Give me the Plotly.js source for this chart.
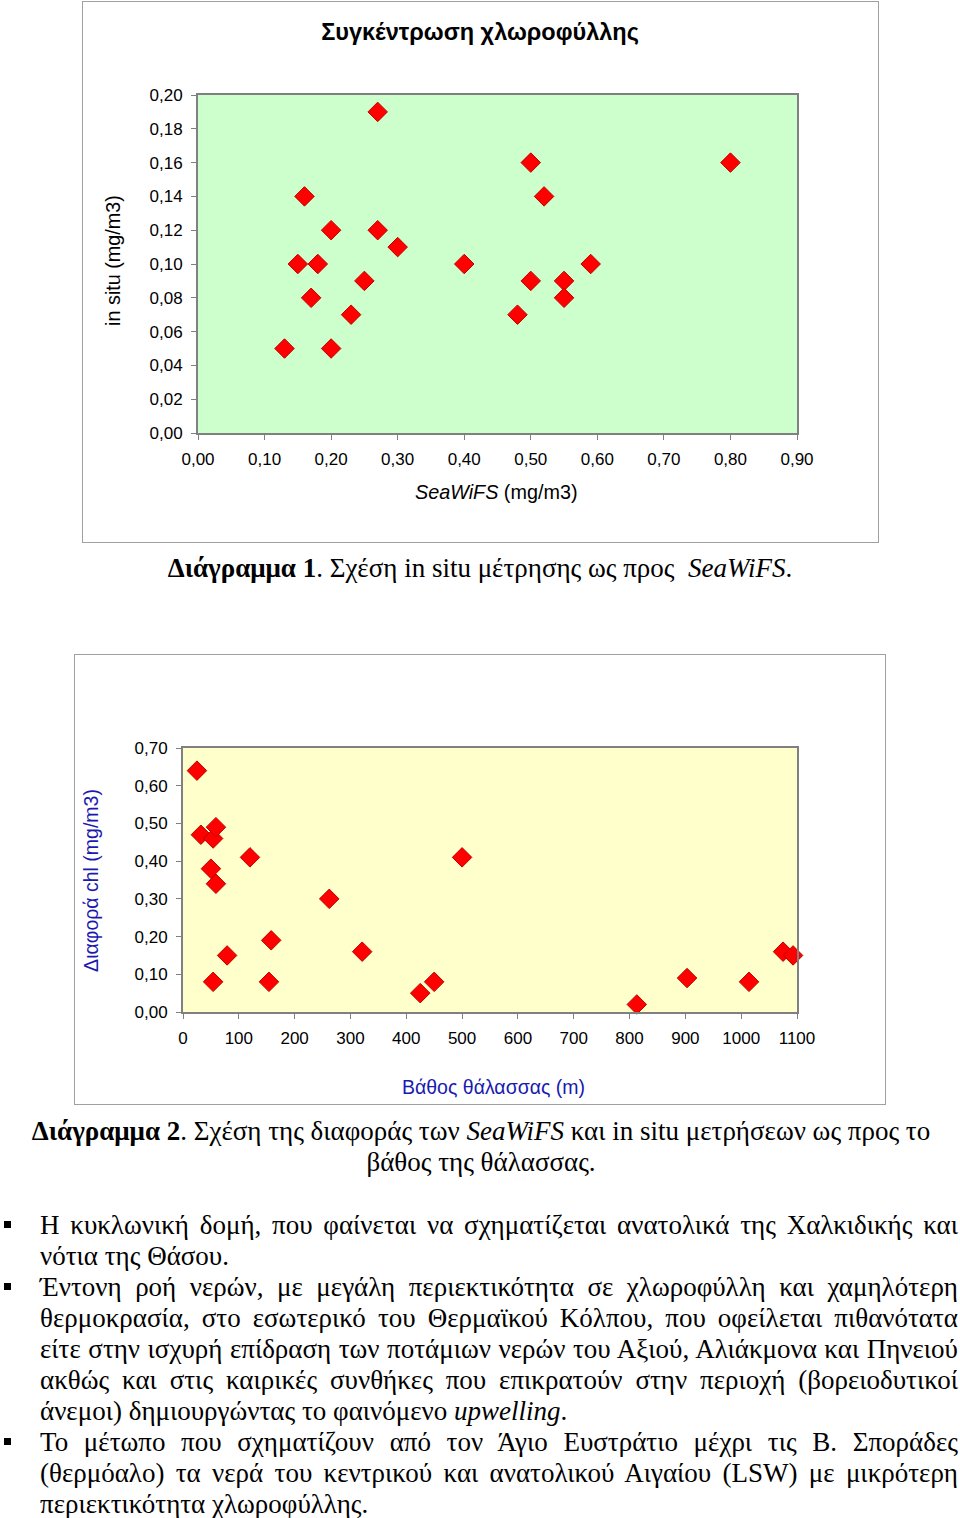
<!DOCTYPE html>
<html>
<head>
<meta charset="utf-8">
<script src="https://cdn.plot.ly/plotly-3.0.1.min.js"></script>
<style>
  html, body { margin:0; padding:0; background:#fff; }
  body { width:960px; height:1518px; position:relative; overflow:hidden; }
  .box { position:absolute; box-sizing:border-box; border:1px solid #a0a0a0; background:#fff; }
  .cap { position:absolute; font-family:"Liberation Serif","Times New Roman",serif; font-size:27px; color:#000; text-align:center; line-height:31px; white-space:nowrap; }
  .ln { position:absolute; left:40px; width:918px; height:31px; font-family:"Liberation Serif","Times New Roman",serif; font-size:27px; line-height:31px; color:#000; white-space:nowrap; }
  .ln span { display:inline-block; transform-origin:0 50%; }
  .bul { position:absolute; left:4px; width:7px; height:7px; background:#000; }
</style>
</head>
<body>
<div class="box" style="left:82px;top:1px;width:797px;height:542px;"><div id="c1" style="width:795px;height:540px;"></div></div>
<div class="cap" style="left:0;width:960px;top:553px;"><b>Διάγραμμα 1</b>. Σχέση in situ μέτρησης ως προς &nbsp;<i>SeaWiFS</i>.</div>

<div class="box" style="left:74px;top:654px;width:812px;height:451px;"><div id="c2" style="width:810px;height:449px;"></div></div>
<div class="cap" style="left:0;width:962px;top:1116px;"><b>Διάγραμμα 2</b>. Σχέση της διαφοράς των <i>SeaWiFS</i> και in situ μετρήσεων ως προς το<br>βάθος της θάλασσας.</div>

<div id="body"></div>

<script>
// Chart 1 data
const seawifs = [0.13,0.15,0.16,0.17,0.18,0.20,0.20,0.23,0.25,0.27,0.27,0.30,0.40,0.48,0.50,0.50,0.52,0.55,0.55,0.59,0.80];
const insitu  = [0.05,0.10,0.14,0.08,0.10,0.12,0.05,0.07,0.09,0.19,0.12,0.11,0.10,0.07,0.16,0.09,0.14,0.09,0.08,0.10,0.16];
const c1XTicks = [0,0.1,0.2,0.3,0.4,0.5,0.6,0.7,0.8,0.9];
const c1XLabels = ["0,00","0,10","0,20","0,30","0,40","0,50","0,60","0,70","0,80","0,90"];
const c1YTicks = [0,0.02,0.04,0.06,0.08,0.10,0.12,0.14,0.16,0.18,0.20];
const c1YLabels = ["0,00","0,02","0,04","0,06","0,08","0,10","0,12","0,14","0,16","0,18","0,20"];

// Chart 2 data
const depth   = [25,32,54,59,50,59,120,54,79,158,154,262,321,425,450,500,813,903,1014,1075,1093];
const chlDiff = [0.64,0.47,0.46,0.49,0.38,0.34,0.41,0.08,0.15,0.19,0.08,0.30,0.16,0.05,0.08,0.41,0.02,0.09,0.08,0.16,0.15];
const c2XTicks = [0,100,200,300,400,500,600,700,800,900,1000,1100];
const c2XLabels = ["0","100","200","300","400","500","600","700","800","900","1000","1100"];
const c2YTicks = [0,0.1,0.2,0.3,0.4,0.5,0.6,0.7];
const c2YLabels = ["0,00","0,10","0,20","0,30","0,40","0,50","0,60","0,70"];

// Body text lines: [text, justified?, bullet?]
const bodyLines = [
  ["Η κυκλωνική δομή, που φαίνεται να σχηματίζεται ανατολικά της Χαλκιδικής και", true, true],
  ["νότια της Θάσου.", false, false],
  ["Έντονη ροή νερών, με μεγάλη περιεκτικότητα σε χλωροφύλλη και χαμηλότερη", true, true],
  ["θερμοκρασία, στο εσωτερικό του Θερμαϊκού Κόλπου, που οφείλεται πιθανότατα", true, false],
  ["είτε στην ισχυρή επίδραση των ποτάμιων νερών του Αξιού, Αλιάκμονα και Πηνειού", true, false],
  ["ακθώς και στις καιρικές συνθήκες που επικρατούν στην περιοχή (βορειοδυτικοί", true, false],
  ["άνεμοι) δημιουργώντας το φαινόμενο <i>upwelling</i>.", false, false],
  ["Το μέτωπο που σχηματίζουν από τον Άγιο Ευστράτιο μέχρι τις Β. Σποράδες", true, true],
  ["(θερμόαλο) τα νερά του κεντρικού και ανατολικού Αιγαίου (LSW) με μικρότερη", true, false],
  ["περιεκτικότητα χλωροφύλλης.", false, false]
];

(function buildBody(){
  const host = document.getElementById('body');
  const W = 918;
  bodyLines.forEach((l, i) => {
    const cy = 1225 + 31 * i;
    if (l[2]) {
      const b = document.createElement('div');
      b.className = 'bul'; b.style.top = (cy - 4) + 'px';
      host.appendChild(b);
    }
    const d = document.createElement('div');
    d.className = 'ln'; d.style.top = (cy - 15.5) + 'px';
    const s = document.createElement('span');
    s.innerHTML = l[0];
    d.appendChild(s);
    host.appendChild(d);
    if (l[1]) {
      const w = s.getBoundingClientRect().width;
      const words = l[0].split(' ').length;
      if (w < W && words > 1) {
        s.style.wordSpacing = ((W - w) / (words - 1)) + 'px';
      } else if (w > W) {
        s.style.transform = 'scaleX(' + (W / w) + ')';
      }
    }
  });
})();

const FONT = '"Liberation Sans", Arial, sans-serif';
const marker = {symbol:'diamond', size:15, color:'#ff0000', line:{color:'#c00000', width:1}};

function axis(range, tv, tt, extra) {
  return Object.assign({
    range: range, tickmode:'array', tickvals: tv, ticktext: tt,
    showgrid:false, zeroline:false, showline:true, mirror:true,
    linecolor:'#808080', linewidth:2, ticks:'outside', ticklen:5, tickcolor:'#808080', tickwidth:1,
    tickfont:{family:FONT, size:17, color:'#000'}, fixedrange:true
  }, extra || {});
}

Plotly.newPlot('c1', [{
  x: seawifs, y: insitu, type:'scatter', mode:'markers', marker: marker, cliponaxis:false, hoverinfo:'x+y'
}], {
  width:795, height:540,
  margin:{l:115, r:81, t:93, b:109},
  paper_bgcolor:'#ffffff', plot_bgcolor:'#ccffcc',
  showlegend:false,
  font:{family:FONT, color:'#000'},
  title:{text:'<b>Συγκέντρωση χλωροφύλλης</b>', font:{family:FONT, size:23.5, color:'#000'},
         xref:'container', yref:'container', x:0.4994, xanchor:'center', y:1-30/540, yanchor:'middle'},
  xaxis: axis([0,0.9], c1XTicks, c1XLabels, {ticklabelstandoff:5}),
  yaxis: axis([0,0.2], c1YTicks, c1YLabels, {ticklabelstandoff:5}),
  annotations:[
    {text:'in situ (mg/m3)', xref:'paper', yref:'paper', x:-0.142, y:0.512, xanchor:'center', yanchor:'middle',
     textangle:-90, showarrow:false, font:{family:FONT, size:19.8, color:'#000'}},
    {text:'<i>SeaWiFS</i> (mg/m3)', xref:'paper', yref:'paper', x:0.499, y:-0.1746, xanchor:'center', yanchor:'middle',
     showarrow:false, font:{family:FONT, size:19.8, color:'#000'}}
  ]
}, {displayModeBar:false, staticPlot:true});

Plotly.newPlot('c2', [{
  x: depth, y: chlDiff, type:'scatter', mode:'markers', marker: marker, cliponaxis:false, hoverinfo:'x+y'
}], {
  width:810, height:449,
  margin:{l:108, r:88, t:93, b:92},
  paper_bgcolor:'#ffffff', plot_bgcolor:'#ffffcc',
  showlegend:false,
  font:{family:FONT, color:'#000'},
  xaxis: axis([0,1100], c2XTicks, c2XLabels, {ticklabelstandoff:5}),
  yaxis: axis([0,0.7], c2YTicks, c2YLabels, {ticklabelstandoff:5}),
  annotations:[
    {text:'Διαφορά chl (mg/m3)', xref:'paper', yref:'paper', x:-0.150, y:0.5, xanchor:'center', yanchor:'middle',
     textangle:-90, showarrow:false, font:{family:FONT, size:19.5, color:'#1a1ab0'}},
    {text:'Βάθος θάλασσας (m)', xref:'paper', yref:'paper', x:0.505, y:-0.284, xanchor:'center', yanchor:'middle',
     showarrow:false, font:{family:FONT, size:19.5, color:'#1a1ab0'}}
  ]
}, {displayModeBar:false, staticPlot:true});
</script>
</body>
</html>
